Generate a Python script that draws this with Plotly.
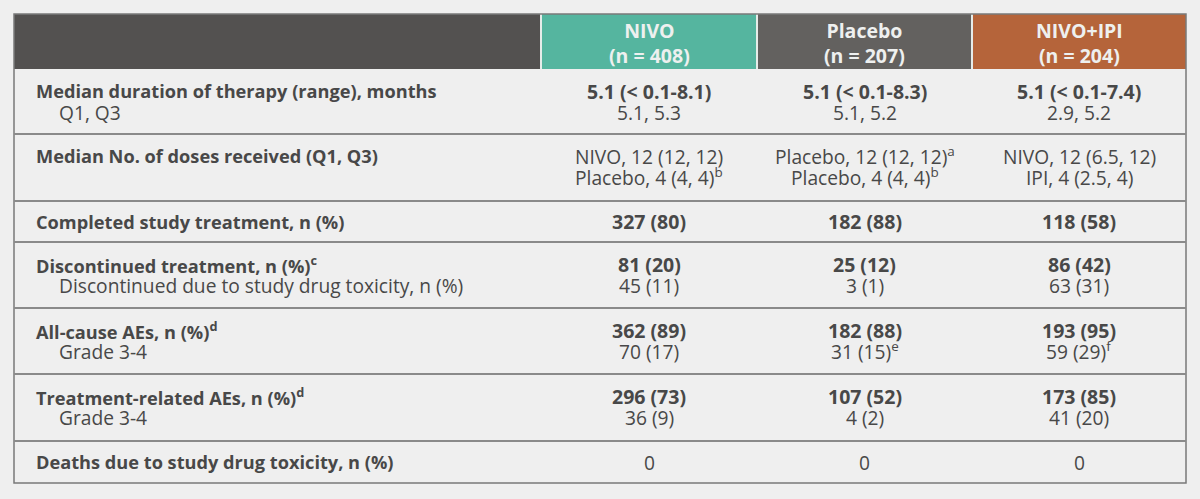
import plotly.graph_objects as go

# ---------------- data ----------------
groups = ["NIVO", "Placebo", "NIVO+IPI"]
group_n = [408, 207, 204]
group_colors = ["#55b59f", "#63615f", "#b5643a"]

row_labels = [
    "Median duration of therapy (range), months",
    "Median No. of doses received (Q1, Q3)",
    "Completed study treatment, n (%)",
    "Discontinued treatment, n (%)<sup>c</sup>",
    "All-cause AEs, n (%)<sup>d</sup>",
    "Treatment-related AEs, n (%)<sup>d</sup>",
    "Deaths due to study drug toxicity, n (%)",
]
sub_labels = [
    "Q1, Q3",
    "",
    "",
    "Discontinued due to study drug toxicity, n (%)",
    "Grade 3-4",
    "Grade 3-4",
    "",
]
main_bold = [True, False, True, True, True, True, False]

nivo_main = ["5.1 (< 0.1-8.1)", "NIVO, 12 (12, 12)", "327 (80)", "81 (20)", "362 (89)", "296 (73)", "0"]
nivo_sub = ["5.1, 5.3", "Placebo, 4 (4, 4)<sup>b</sup>", "", "45 (11)", "70 (17)", "36 (9)", ""]
placebo_main = ["5.1 (< 0.1-8.3)", "Placebo, 12 (12, 12)<sup>a</sup>", "182 (88)", "25 (12)", "182 (88)", "107 (52)", "0"]
placebo_sub = ["5.1, 5.2", "Placebo, 4 (4, 4)<sup>b</sup>", "", "3 (1)", "31 (15)<sup>e</sup>", "4 (2)", ""]
ipi_main = ["5.1 (< 0.1-7.4)", "NIVO, 12 (6.5, 12)", "118 (58)", "86 (42)", "193 (95)", "173 (85)", "0"]
ipi_sub = ["2.9, 5.2", "IPI, 4 (2.5, 4)", "", "63 (31)", "59 (29)<sup>f</sup>", "41 (20)", ""]

group_main = [nivo_main, placebo_main, ipi_main]
group_sub = [nivo_sub, placebo_sub, ipi_sub]

# ---------------- layout geometry (pixel-like axis units) ----------------
W, H = 1200, 499
col_edges = [14, 541, 757, 972, 1186]
header_top, header_bottom = 14, 69
row_edges = [69, 134, 201, 242, 308, 374, 441, 483]

BG = "#efefef"
TXT = "#484848"
FONT = "Open Sans"
FS_B = 18.2      # bold row labels
FS_BV = 19.5     # bold values
FS_R = 19.2      # regular text
FS_H = 19.5      # header


def fmt(text, bold):
    return f"<b>{text}</b>" if bold else text


fig = go.Figure()
shapes = []
annotations = []

# header cells
shapes.append(dict(type="rect", xref="x", yref="y", x0=col_edges[0], x1=col_edges[1],
                   y0=header_top, y1=header_bottom, fillcolor="#535150",
                   line=dict(width=0), layer="below"))
for i, g in enumerate(groups):
    shapes.append(dict(type="rect", xref="x", yref="y", x0=col_edges[i + 1], x1=col_edges[i + 2],
                       y0=header_top, y1=header_bottom, fillcolor=group_colors[i],
                       line=dict(width=0), layer="below"))
    cx = (col_edges[i + 1] + col_edges[i + 2]) / 2
    annotations.append(dict(x=cx, y=(header_top + header_bottom) / 2 + 1, xref="x", yref="y",
                            text=f"<b>{g}</b><br><b>(n = {group_n[i]})</b>", showarrow=False,
                            font=dict(family=FONT, size=FS_H, color="#eef0ef"),
                            align="center", xanchor="center", yanchor="middle"))
# light separators in header
for xe in col_edges[1:4]:
    shapes.append(dict(type="line", xref="x", yref="y", x0=xe, x1=xe, y0=header_top, y1=header_bottom,
                       line=dict(color="#e6ece9", width=2)))

# outer border of the body
shapes.append(dict(type="rect", xref="x", yref="y", x0=col_edges[0], x1=col_edges[-1],
                   y0=header_top, y1=row_edges[-1], line=dict(color="#7a7a7a", width=1.5),
                   fillcolor="rgba(0,0,0,0)"))
# row separators
for ye in row_edges[1:-1]:
    shapes.append(dict(type="line", xref="x", yref="y", x0=col_edges[0], x1=col_edges[-1],
                       y0=ye, y1=ye, line=dict(color="#8a8a8a", width=2)))

# body text
for r, lab in enumerate(row_labels):
    top, bot = row_edges[r], row_edges[r + 1]
    has_sub = sub_labels[r] != "" or any(gs[r] != "" for gs in group_sub)
    if has_sub:
        y_main = top + 22
        y_sub = top + 43
    else:
        y_main = (top + bot) / 2
        y_sub = None
    annotations.append(dict(x=col_edges[0] + 20, y=y_main, xref="x", yref="y", text=f"<b>{lab}</b>",
                            showarrow=False, xanchor="left", yanchor="middle",
                            font=dict(family=FONT, size=FS_B, color=TXT)))
    if sub_labels[r]:
        annotations.append(dict(x=col_edges[0] + 43, y=y_sub, xref="x", yref="y", text=sub_labels[r],
                                showarrow=False, xanchor="left", yanchor="middle",
                                font=dict(family=FONT, size=FS_R, color=TXT)))
    for g in range(3):
        cx = (col_edges[g + 1] + col_edges[g + 2]) / 2
        mv = group_main[g][r]
        annotations.append(dict(x=cx, y=y_main, xref="x", yref="y", text=fmt(mv, main_bold[r]),
                                showarrow=False, xanchor="center", yanchor="middle",
                                font=dict(family=FONT, size=FS_BV if main_bold[r] else FS_R, color=TXT)))
        sv = group_sub[g][r]
        if sv:
            annotations.append(dict(x=cx, y=y_sub, xref="x", yref="y", text=sv, showarrow=False,
                                    xanchor="center", yanchor="middle",
                                    font=dict(family=FONT, size=FS_R, color=TXT)))

fig.update_layout(
    width=W, height=H,
    margin=dict(l=0, r=0, t=0, b=0),
    paper_bgcolor=BG, plot_bgcolor=BG,
    xaxis=dict(range=[0, W], visible=False, fixedrange=True),
    yaxis=dict(range=[H, 0], visible=False, fixedrange=True),
    shapes=shapes, annotations=annotations,
    showlegend=False,
)
fig.write_html(
    "out.html",
    config={"displayModeBar": False},
    post_script="document.body.style.margin='0';document.body.style.background='#efefef';",
)
